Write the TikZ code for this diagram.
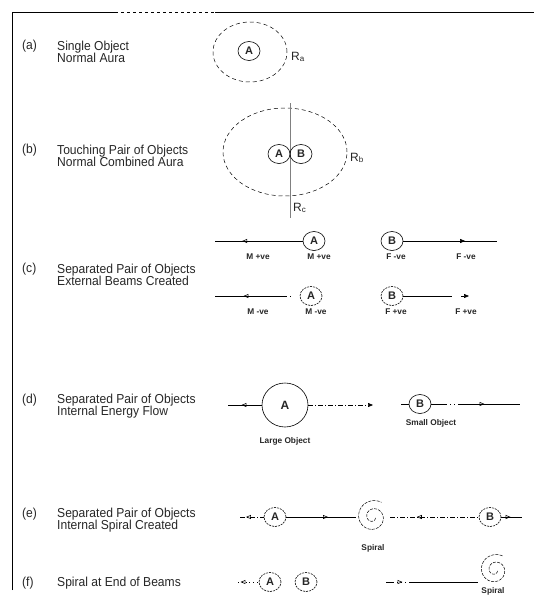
\documentclass[tikz,border=0pt]{standalone}
\usepackage{fontspec}
\setmainfont{Liberation Sans}
\newfontfamily\lblfont[FakeStretch=0.93]{Liberation Sans}
\usetikzlibrary{arrows.meta,decorations.markings,shapes.geometric}
\newcommand\myspiral[3]{\draw[line width=0.5pt,dash pattern=on 3pt off 1.2pt] plot[domain=0:640,samples=160,variable=\t] ({#1+(2.5+#3*\t/640)*cos(\t+20)},{#2+(2.5+#3*\t/640)*sin(\t+20)});}
\begin{document}
\begin{tikzpicture}[x=1pt,y=-1pt,
  every node/.style={text=black!85},
  lbl/.style={anchor=west,font=\lblfont\fontsize{13}{12.5}\selectfont,align=left,inner sep=0pt},
  obj/.style={ellipse,draw,line width=0.6pt,minimum width=22pt,minimum height=19pt,inner sep=0pt,font=\fontsize{11}{11}\selectfont\bfseries},
  dobj/.style={obj,dash pattern=on 2pt off 1pt},
  tag/.style={font=\fontsize{8.3}{9}\selectfont\bfseries,inner sep=0pt},
  rlab/.style={anchor=west,inner sep=0pt,font=\fontsize{12}{12}\selectfont},
  ln/.style={line width=0.6pt},
  dd/.style={ln,dash pattern=on 5pt off 2pt on 1pt off 2pt},
  aura/.style={draw,dash pattern=on 4pt off 3pt,line width=0.5pt,ellipse},
  markR/.style={postaction={decorate},decoration={markings,mark=at position #1 with {\arrow{Triangle[open,length=5pt,width=4pt]}}}},
  markRf/.style={postaction={decorate},decoration={markings,mark=at position #1 with {\arrow{Triangle[length=5pt,width=4pt]}}}},
  markL/.style={postaction={decorate},decoration={markings,mark=at position #1 with {\arrowreversed{Triangle[open,length=5pt,width=4pt]}}}},
  spir/.style={circle,minimum size=34pt,inner sep=0pt}
]
\useasboundingbox (0,0) rectangle (534,597);
% frame
\draw[ln] (12,590) -- (12,12) -- (115,12);
\draw[ln,dashed] (115,12) -- (215,12);
\draw[ln] (215,12) -- (534,12);
% left labels
\node[lbl] (ta) at (22,46) {(a)};
\node[lbl] (la) at (57,52) {Single Object\\Normal Aura};
\node[lbl] (tb) at (22,150) {(b)};
\node[lbl] (lb) at (57,156) {Touching Pair of Objects\\Normal Combined Aura};
\node[lbl] (tc) at (22,269) {(c)};
\node[lbl] (lc) at (57,275) {Separated Pair of Objects\\External Beams Created};
\node[lbl] (td) at (22,400) {(d)};
\node[lbl] (ld) at (57,406) {Separated Pair of Objects\\Internal Energy Flow};
\node[lbl] (te) at (22,514) {(e)};
\node[lbl] (le) at (57,520) {Separated Pair of Objects\\Internal Spiral Created};
\node[lbl] (tf) at (22,583) {(f)};
\node[lbl] (lf) at (57,583) {Spiral at End of Beams};
% (a)
\node[aura,minimum width=74pt,minimum height=60pt] (auraA) at (250,52) {};
\node[obj] (a0) at (249,51) {A};
\node[rlab] (ra) at (291,57) {R\textsubscript{a}};
% (b)
\node[aura,minimum width=124pt,minimum height=88pt] (auraB) at (285,152) {};
\coordinate (ct) at (290,103);
\coordinate (cb) at (290,218);
\draw[ln,gray] (ct) -- (cb);
\node[obj] (bA) at (279,154) {A};
\node[obj] (bB) at (301,154) {B};
\node[rlab] (rb) at (350,158) {R\textsubscript{b}};
\node[rlab] (rc) at (293,208) {R\textsubscript{c}};
% (c) row 1
\coordinate (c1l) at (215,241);
\node[obj] (cA1) at (314,241) {A};
\node[obj] (cB1) at (392,241) {B};
\coordinate (c1r) at (497,241);
\draw[ln,markL=0.31] (c1l) -- (cA1);
\draw[ln,markRf=0.66] (cB1) -- (c1r);
\node[tag] (m1) at (258,257) {M +ve};
\node[tag] (m2) at (319,257) {M +ve};
\node[tag] (f1) at (396,257) {F -ve};
\node[tag] (f2) at (466,257) {F -ve};
% (c) row 2
\coordinate (c2l) at (215,296);
\coordinate (c2m) at (292,296);
\node[dobj] (cA2) at (311,296) {A};
\node[dobj] (cB2) at (392,296) {B};
\coordinate (c2n) at (452,296);
\coordinate (c2a) at (461,296);
\coordinate (c2b) at (469,296);
\draw[ln,dash pattern=on 72pt off 3pt on 1pt off 10pt,markL=0.37] (c2l) -- (c2m);
\draw[ln] (cB2) -- (c2n);
\draw[ln,-{Triangle[length=5pt,width=4pt]}] (c2a) -- (c2b);
\node[tag] (m3) at (258,312) {M -ve};
\node[tag] (m4) at (316,312) {M -ve};
\node[tag] (f3) at (396,312) {F +ve};
\node[tag] (f4) at (466,312) {F +ve};
% (d)
\node[draw,ellipse,ln,minimum width=46pt,minimum height=44pt,inner sep=0pt,font=\fontsize{12}{12}\selectfont\bfseries] (dA) at (285,405) {A};
\coordinate (d0) at (228,405);
\coordinate (d1) at (373,405);
\draw[ln,markL=0.4] (d0) -- (dA);
\draw[dd,-{Triangle[length=5pt,width=4pt]}] (dA) -- (d1);
\node[obj] (dB) at (420,404) {B};
\coordinate (d2) at (401,404);
\coordinate (d3) at (520,404);
\draw[ln] (d2) -- (dB);
\draw[ln,dash pattern=on 16pt off 3pt on 1pt off 3pt on 1pt off 3pt on 80pt,markR=0.6] (dB) -- (d3);
\node[tag] (dl1) at (285,441) {Large Object};
\node[tag] (dl2) at (431,423) {Small Object};
% (e)
\coordinate (e0) at (240,517);
\node[dobj] (eA) at (275,517) {A};
\node[spir] (eS) at (373,517) {};
\myspiral{373}{517}{14.5}
\node[dobj] (eB) at (490,517) {B};
\coordinate (e3) at (522,517);
\draw[dd,markL=0.25] (e0) -- (eA);
\draw[ln,markR=0.6] (eA) -- (eS);
\draw[dd,markL=0.3] (eS) -- (eB);
\draw[ln,markR=0.45] (eB) -- (e3);
\node[tag] (es) at (373,548) {Spiral};
% (f)
\coordinate (f0) at (238,582);
\node[dobj] (fA) at (270,582) {A};
\node[dobj] (fB) at (306,582) {B};
\draw[ln,dash pattern=on 0.8pt off 3pt,markL=0.12] (f0) -- (fA);
\coordinate (f2) at (386,582);
\node[spir] (fS) at (495,570) {};
\myspiral{495}{570}{13.5}
\draw[ln,dash pattern=on 8pt off 3pt on 1pt off 3pt on 1pt off 3pt on 1pt off 3pt on 80pt,markR=0.18] (f2) -- (f2 -| fS.west);
\node[tag] (fs) at (493,591) {Spiral};
\end{tikzpicture}
\end{document}
